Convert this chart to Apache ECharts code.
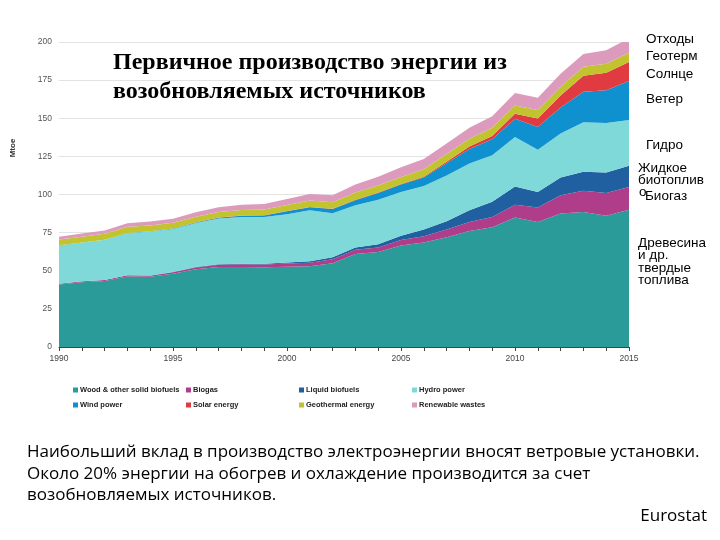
<!DOCTYPE html>
<html><head><meta charset="utf-8">
<script src="https://cdn.jsdelivr.net/npm/echarts@6/dist/echarts.min.js"></script>
<style>html,body{margin:0;padding:0;background:#fff}#c{width:720px;height:540px}</style>
</head><body><div id="c"></div>
<script>
const years = ['1990','1991','1992','1993','1994','1995','1996','1997','1998','1999','2000','2001','2002','2003','2004','2005','2006','2007','2008','2009','2010','2011','2012','2013','2014','2015'];
const wood      = [41,42.5,43.3,46.3,46,48,51,52.5,52.5,52.3,52.7,53,55,61,62.3,66.5,68.5,72,76,78.5,85,82,87.5,88.5,86,90];
const biogas    = [0.5,0.5,0.6,0.7,0.8,1.0,1.2,1.5,1.7,1.8,2.0,2.3,2.6,2.7,3.0,3.6,4.2,5.0,6.0,6.8,8.2,9.4,12,14,15,15];
const liquid    = [0.05,0.05,0.05,0.1,0.1,0.2,0.2,0.3,0.4,0.5,0.7,0.9,1.2,1.5,2.0,2.8,4.4,5.5,7.6,9.9,12,10.2,11.6,12.5,13.5,13.8];
const hydro     = [25,25.4,26.3,27.5,28.8,28.2,28.9,29.9,30.7,30.6,31.7,33.4,28.9,27.8,29.2,28.7,28.5,30,30.8,30.5,32.5,27.7,28.9,32.4,32.4,30.1];
const wind      = [0.05,0.07,0.1,0.15,0.2,0.3,0.4,0.6,0.8,1.1,1.9,2.1,2.8,3.3,4.5,5.0,5.5,8,9.5,10.5,12,15,17,20,21.5,25.5];
const solar     = [0.05,0.05,0.05,0.05,0.05,0.05,0.05,0.1,0.1,0.1,0.1,0.1,0.15,0.2,0.25,0.3,0.5,1,1.5,2.2,3.3,5.5,8,10.5,11.5,12.5];
const geo       = [3.9,3.8,3.8,4.0,3.8,3.7,3.7,3.6,3.7,3.8,4.0,4.3,4.2,4.8,4.6,4.6,5.0,5.0,5.2,5.3,5.4,5.6,5.7,5.8,5.9,6.0];
const waste     = [1.8,2.0,2.2,2.4,2.6,2.7,2.9,3.1,3.3,3.6,4.0,4.3,4.7,5.3,5.8,6.3,6.7,7.0,7.2,7.6,8.2,8.0,8.5,8.5,8.8,9.5];
const seriesNames = ['Wood & other solid biofuels','Biogas','Liquid biofuels','Hydro power','Wind power','Solar energy','Geothermal energy','Renewable wastes'];
const seriesData = [wood,biogas,liquid,hydro,wind,solar,geo,waste];
const colors = ['#2b9b9a','#b03d89','#2160a0','#7fd9d9','#0f90cf','#df3b40','#c1c42f','#dc9bbd'];
const yTicks = [0,25,50,75,100,125,150,175,200];
const titleLines = ['Первичное производство энергии из','возобновляемых источников'];
const sideLabels = [
  ['Отходы',646,40],['Геотерм',646,57],['Солнце',646,75],['Ветер',646,100],['Гидро',646,146],
  ['Жидкое',638,169],['биотоплив',638,181],['о',639,193],['Биогаз',645,197],
  ['Древесина',638,244],['и др.',638,256],['твердые',638,269],['топлива',638,281]
];
const noteLines = ['Наибольший вклад в производство электроэнергии вносят ветровые установки.','Около 20% энергии на обогрев и охлаждение производится за счет','возобновляемых источников.'];
const sourceText = 'Eurostat';

const chart = echarts.init(document.getElementById('c'));
const legendCols = [[0,4],[1,5],[2,6],[3,7]];
const legendLeft = [68,181,294,407];
const graphic = [];
titleLines.forEach((t,i)=>graphic.push({type:'text',left:113,top:51+i*29,style:{text:t,font:'bold 24px "Liberation Serif", serif',fill:'#000'}}));
sideLabels.forEach(s=>graphic.push({type:'text',left:s[1],top:s[2]-8,style:{text:s[0],font:'13.5px "Liberation Sans", Arial, sans-serif',fill:'#000'}}));
noteLines.forEach((t,i)=>graphic.push({type:'text',left:27,top:444+i*21.5,style:{text:t,font:'17px "Open Sans", sans-serif',fill:'#000'}}));
graphic.push({type:'text',right:13,top:508,style:{text:sourceText,font:'17px "Open Sans", sans-serif',fill:'#000'}});
graphic.push({type:'text',x:13,y:148,rotation:Math.PI/2,style:{text:'Mtoe',font:'bold 8px "Liberation Sans", Arial',fill:'#333',align:'center',verticalAlign:'middle'}});

chart.setOption({
  animation:false,
  color:colors,
  grid:{left:59,right:91,top:42,bottom:193},
  legend: legendCols.map((col,i)=>({
    orient:'vertical',left:legendLeft[i],top:381,itemWidth:5,itemHeight:5,itemGap:7,icon:'rect',
    textStyle:{fontSize:7.5,fontWeight:'bold',color:'#222',fontFamily:'"Liberation Sans", Arial',padding:[0,0,0,-3]},
    data:col.map(k=>seriesNames[k])
  })),
  xAxis:{type:'category',data:years,boundaryGap:false,
    axisLine:{lineStyle:{color:'#444',width:1}},
    axisTick:{show:true,interval:0,length:4,lineStyle:{color:'#444'}},
    axisLabel:{interval:4,fontSize:8.5,color:'#444',margin:7,fontFamily:'"Liberation Sans", Arial'},
    splitLine:{show:false}},
  yAxis:{type:'value',min:0,max:200,interval:25,
    axisLine:{show:false},axisTick:{show:false},
    axisLabel:{fontSize:8.5,color:'#555',margin:7,fontFamily:'"Liberation Sans", Arial'},
    splitLine:{lineStyle:{color:'#e3e3e3',width:1}}},
  graphic:graphic,
  series: seriesNames.map((n,i)=>({
    name:n,type:'line',stack:'total',data:seriesData[i],showSymbol:false,symbol:'none',
    lineStyle:{width:0},areaStyle:{color:colors[i],opacity:1},itemStyle:{color:colors[i]}
  }))
});
</script></body></html>
